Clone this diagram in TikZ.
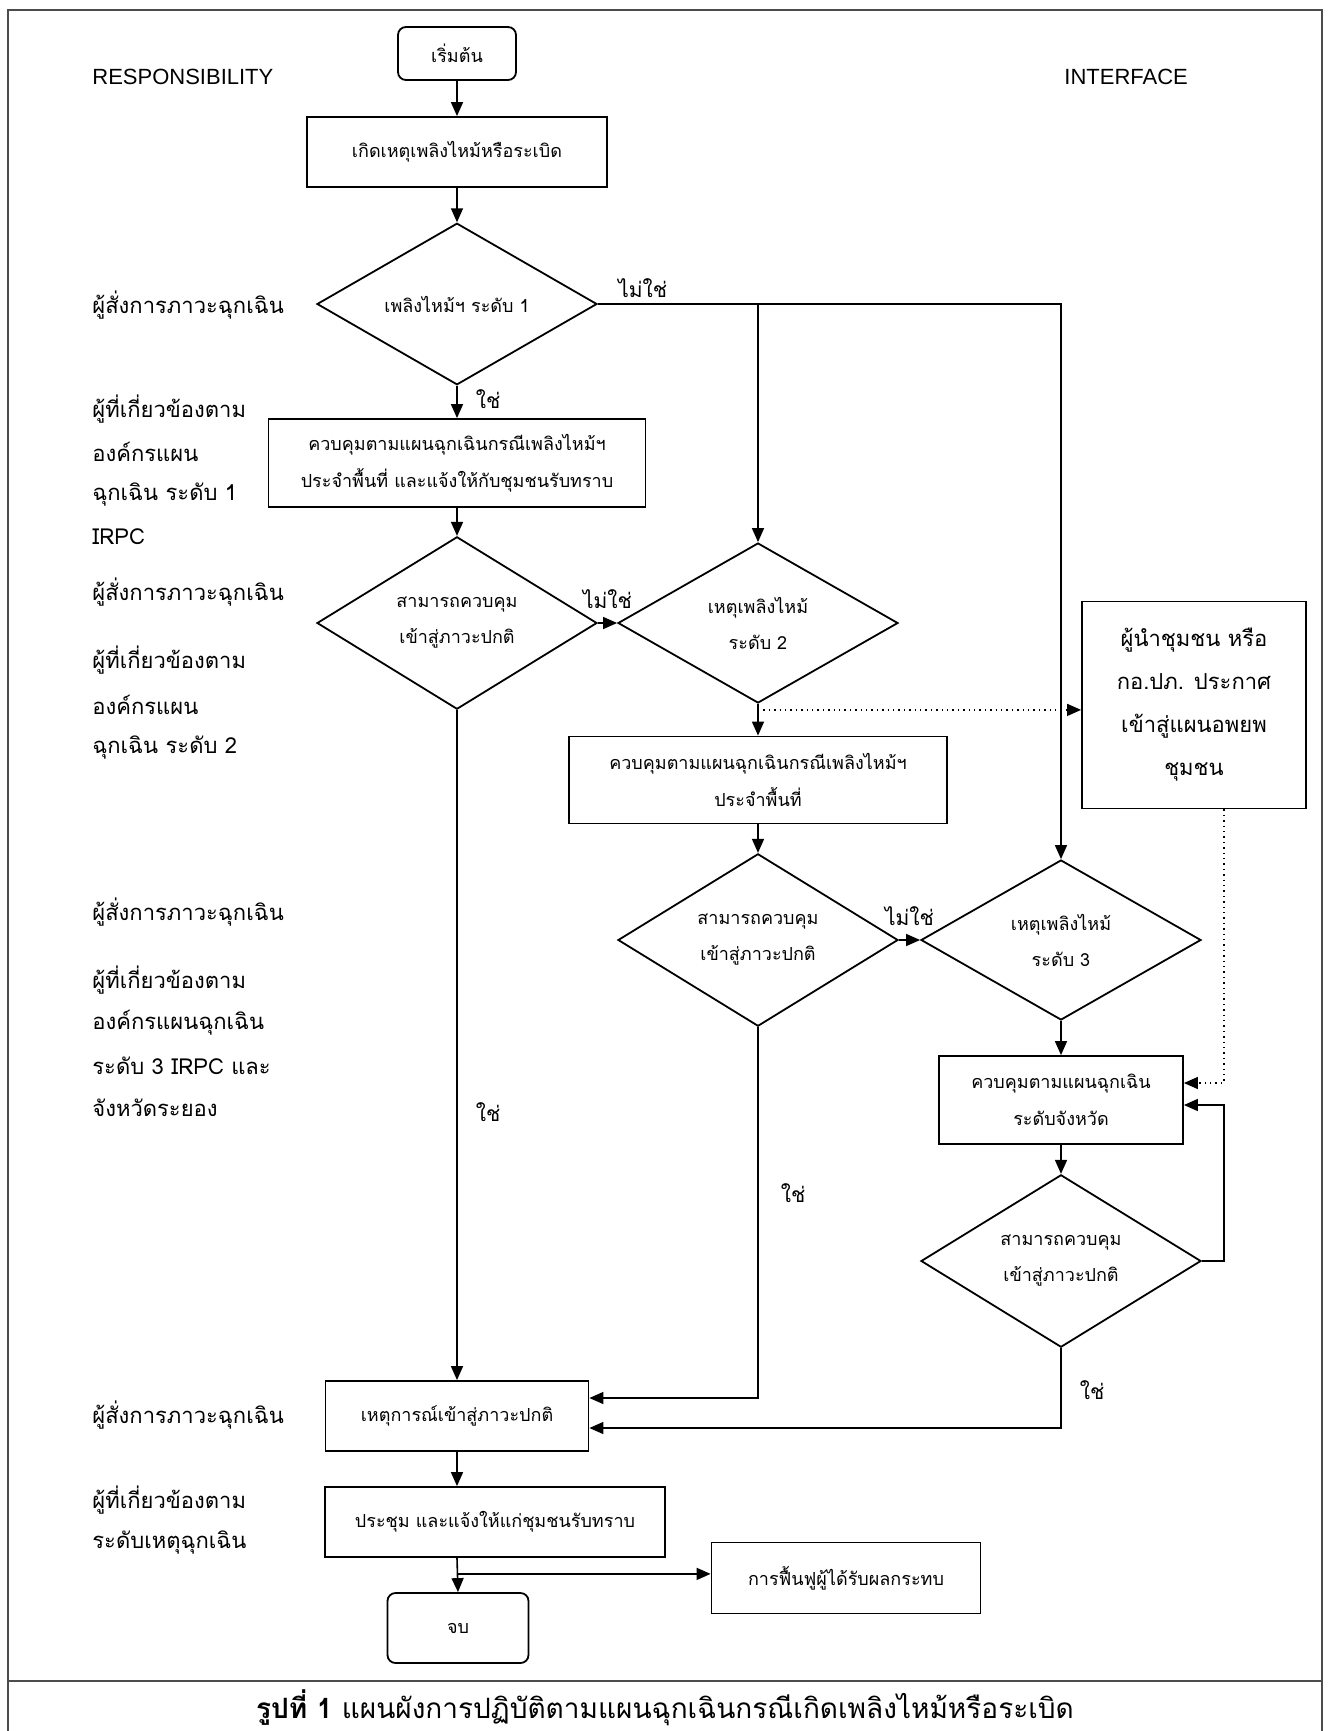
\documentclass[tikz,border=0pt]{standalone}
\usepackage{fontspec}
\setmainfont[Script=Thai]{Loma}
\newfontfamily\latinfont{Liberation Sans}
\usetikzlibrary{positioning,shapes.geometric,arrows.meta,calc}
\tikzset{
  flowbox/.style={draw=black, line width=0.9pt, rectangle, align=center,
    inner sep=2pt, font=\fontsize{9}{18.5}\selectfont},
  termbox/.style={flowbox, rounded corners=4pt},
  decision/.style={draw=black, line width=0.9pt, diamond, align=center,
    minimum width=140pt, minimum height=80pt, inner sep=0pt,
    font=\fontsize{9}{18}\selectfont},
  role/.style={anchor=west, inner sep=0pt, font=\fontsize{11}{13}\selectfont},
  answer/.style={inner sep=0pt, font=\fontsize{10.5}{12}\selectfont},
  flow/.style={line width=0.8pt, -{Triangle[length=7pt,width=6pt]}},
  announce/.style={line width=0.7pt, dotted, -{Triangle[length=7pt,width=6pt]}}
}

\begin{document}
\begin{tikzpicture}[x=0.5pt, y=-0.5pt]
    \useasboundingbox (0,0) rectangle (1332,1731);
    % frame and caption rule
    \draw[black!70, line width=0.8pt] (8,1731) -- (8,10) -- (1322,10) -- (1322,1731);
    \draw[black!70, line width=0.8pt] (8,1681) -- (1322,1681);

    % column headings
    \node[role, font=\latinfont\fontsize{11}{13}\selectfont] (resp) at (92,77) {RESPONSIBILITY};
    \node[role, font=\latinfont\fontsize{11}{13}\selectfont] (iface) at (1064,77) {INTERFACE};

    % responsibility column
    \node[role] (r1) at (92,305) {ผู้สั่งการภาวะฉุกเฉิน};
    \node[role] (r2a) at (92,409) {ผู้ที่เกี่ยวข้องตาม};
    \node[role] (r2b) at (92,452) {องค์กรแผน};
    \node[role] (r2c) at (92,495) {ฉุกเฉิน ระดับ 1};
    \node[role] (r2d) at (92,537) {IRPC};
    \node[role] (r3) at (92,592) {ผู้สั่งการภาวะฉุกเฉิน};
    \node[role] (r4a) at (92,660) {ผู้ที่เกี่ยวข้องตาม};
    \node[role] (r4b) at (92,705) {องค์กรแผน};
    \node[role] (r4c) at (92,748) {ฉุกเฉิน ระดับ 2};
    \node[role] (r5) at (92,912) {ผู้สั่งการภาวะฉุกเฉิน};
    \node[role] (r6a) at (92,980) {ผู้ที่เกี่ยวข้องตาม};
    \node[role] (r6b) at (92,1023) {องค์กรแผนฉุกเฉิน};
    \node[role] (r6c) at (92,1066) {ระดับ 3 IRPC และ};
    \node[role] (r6d) at (92,1108) {จังหวัดระยอง};
    \node[role] (r7) at (92,1415) {ผู้สั่งการภาวะฉุกเฉิน};
    \node[role] (r8a) at (92,1500) {ผู้ที่เกี่ยวข้องตาม};
    \node[role] (r8b) at (92,1543) {ระดับเหตุฉุกเฉิน};

    % flow nodes
    \node[termbox, minimum width=59pt, minimum height=26.5pt] (start) at (457,53.5) {เริ่มต้น};
    \node[flowbox, minimum width=150pt, minimum height=35pt] (fire) at (457,152) {เกิดเหตุเพลิงไหม้หรือระเบิด};
    \node[decision] (lvl1) at (457,304) {เพลิงไหม้ฯ ระดับ 1};
    \node[flowbox, minimum width=188.5pt, minimum height=44pt] (ctrl1) at (457,463)
        {ควบคุมตามแผนฉุกเฉินกรณีเพลิงไหม้ฯ\\ประจำพื้นที่ และแจ้งให้กับชุมชนรับทราบ};
    \node[decision] (ok1) at (457,623) {สามารถควบคุม\\เข้าสู่ภาวะปกติ};
    \node[decision] (lvl2) at (758,623) {เหตุเพลิงไหม้\\ระดับ 2};
    \node[flowbox, minimum width=189pt, minimum height=43.5pt] (ctrl2) at (758,780)
        {ควบคุมตามแผนฉุกเฉินกรณีเพลิงไหม้ฯ\\ประจำพื้นที่};
    \node[decision] (ok2) at (758,940) {สามารถควบคุม\\เข้าสู่ภาวะปกติ};
    \node[decision] (lvl3) at (1061,940) {เหตุเพลิงไหม้\\ระดับ 3};
    \node[flowbox, minimum width=112pt, minimum height=103.5pt,
        font=\fontsize{11}{21.5}\selectfont] (leader) at (1194,705)
        {ผู้นำชุมชน หรือ\\กอ.ปภ. ประกาศ\\เข้าสู่แผนอพยพ\\ชุมชน};
    \node[flowbox, minimum width=122pt, minimum height=44pt] (prov) at (1061,1100)
        {ควบคุมตามแผนฉุกเฉิน\\ระดับจังหวัด};
    \node[decision] (ok3) at (1061,1261) {สามารถควบคุม\\เข้าสู่ภาวะปกติ};
    \node[flowbox, minimum width=131.5pt, minimum height=35pt] (normal) at (457,1416) {เหตุการณ์เข้าสู่ภาวะปกติ};
    \node[flowbox, minimum width=170pt, minimum height=35pt] (meeting) at (495,1522) {ประชุม และแจ้งให้แก่ชุมชนรับทราบ};
    \node[termbox, minimum width=70.5pt, minimum height=35pt] (ending) at (458,1628) {จบ};
    \node[flowbox, minimum width=134.5pt, minimum height=35.5pt] (recover) at (846,1578) {การฟื้นฟูผู้ได้รับผลกระทบ};

    % caption
    \node[font=\fontsize{14}{16}\selectfont] (caption) at (665,1708)
        {\textbf{รูปที่ 1} แผนผังการปฏิบัติตามแผนฉุกเฉินกรณีเกิดเพลิงไหม้หรือระเบิด};

    % connectors
    \coordinate (split1) at (lvl2.north |- lvl1.east);
    \coordinate (tap) at ($(lvl2.south)+(0,6)$);
    \coordinate (fork) at ($(normal.south |- meeting.south)+(0,16)$);

    \draw[flow] (start) -- (fire);
    \draw[flow] (fire) -- (lvl1);
    \draw[flow] (lvl1) -- node[answer, right=9pt, pos=0.42] {ใช่} (ctrl1);
    \draw[flow] (lvl1.east) -| (lvl3.north);
    \node[answer, above right=3pt and 10pt of lvl1.east] (no1) {ไม่ใช่};
    \draw[flow] (split1) -- (lvl2.north);
    \draw[flow] (ctrl1) -- (ok1);
    \draw[flow] (ok1) -- node[answer, above=7pt] {ไม่ใช่} (lvl2);
    \draw[flow] (ok1) -- node[answer, right=9pt, pos=0.6] {ใช่} (normal);
    \draw[flow] (lvl2) -- (ctrl2);
    \draw[announce] (tap) -- (tap -| leader.west);
    \draw[flow] (ctrl2) -- (ok2);
    \draw[flow] (ok2) -- node[answer, above=7pt] {ไม่ใช่} (lvl3);
    \draw[flow] (ok2.south) |- node[answer, right=11pt, pos=0.224] {ใช่} ($(normal.east)+(0,-18)$);
    \draw[flow] (lvl3) -- (prov);
    \draw[announce] ($(leader.south)+(30,0)$) |- ($(prov.east)+(0,-17)$);
    \draw[flow] (prov) -- (ok3);
    \draw[flow] (ok3.east) -- ++(22,0) |- ($(prov.east)+(0,5)$);
    \draw[flow] (ok3.south) |- node[answer, right=9pt, pos=0.26] {ใช่} ($(normal.east)+(0,12)$);
    \draw[flow] (normal.south) -- (normal.south |- meeting.north);
    \draw[flow] (normal.south |- meeting.south) -- (ending.north);
    \draw[flow] (fork) -- (fork -| recover.west);

\end{tikzpicture}
\end{document}
